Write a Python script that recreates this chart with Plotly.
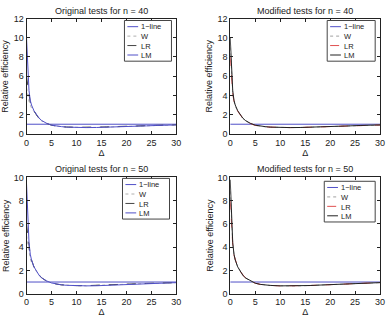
import plotly.graph_objects as go

delta = [0, 0.25, 0.5, 0.75, 1, 1.5, 2, 2.5, 3, 4, 5, 6, 7, 8, 10, 12, 14, 16, 18, 20, 22, 24, 26, 28, 30]

# Original tests, n = 40
o40_line = [1.0] * len(delta)
o40_W = [4.8, 4.0, 3.4, 3.0, 2.7, 2.3, 1.9, 1.6, 1.35, 1.08, 0.9, 0.8, 0.74, 0.7, 0.66, 0.66, 0.67, 0.7, 0.74, 0.77, 0.82, 0.85, 0.88, 0.91, 0.93]
o40_LR = [6.0, 5.0, 4.0, 3.3, 2.9, 2.35, 1.95, 1.62, 1.38, 1.09, 0.9, 0.8, 0.75, 0.71, 0.68, 0.68, 0.7, 0.72, 0.76, 0.8, 0.84, 0.87, 0.9, 0.92, 0.94]
o40_LM = [10.0, 6.5, 4.5, 3.5, 3.0, 2.4, 2.0, 1.65, 1.4, 1.1, 0.9, 0.8, 0.75, 0.7, 0.66, 0.65, 0.66, 0.68, 0.72, 0.75, 0.8, 0.83, 0.87, 0.9, 0.93]

# Modified tests, n = 40
m40_line = [1.0] * len(delta)
m40_W = [9.0, 6.0, 4.3, 3.4, 2.9, 2.35, 1.95, 1.62, 1.38, 1.08, 0.88, 0.78, 0.73, 0.7, 0.66, 0.65, 0.66, 0.69, 0.73, 0.76, 0.8, 0.84, 0.87, 0.9, 0.92]
m40_LR = [8.0, 5.8, 4.2, 3.4, 2.9, 2.35, 1.95, 1.62, 1.38, 1.08, 0.88, 0.78, 0.73, 0.7, 0.66, 0.65, 0.66, 0.69, 0.73, 0.76, 0.8, 0.84, 0.87, 0.9, 0.92]
m40_LM = [10.0, 6.5, 4.5, 3.5, 3.0, 2.4, 2.0, 1.65, 1.4, 1.1, 0.9, 0.8, 0.75, 0.7, 0.66, 0.65, 0.66, 0.68, 0.72, 0.75, 0.8, 0.83, 0.87, 0.9, 0.93]

# Original tests, n = 50
o50_line = [1.0] * len(delta)
o50_W = [5.0, 4.2, 3.5, 3.0, 2.7, 2.25, 1.9, 1.6, 1.35, 1.08, 0.92, 0.82, 0.76, 0.72, 0.68, 0.68, 0.7, 0.73, 0.77, 0.8, 0.84, 0.87, 0.9, 0.93, 0.95]
o50_LR = [6.0, 5.0, 4.0, 3.3, 2.9, 2.3, 1.92, 1.6, 1.37, 1.09, 0.92, 0.82, 0.76, 0.72, 0.69, 0.69, 0.71, 0.74, 0.78, 0.81, 0.85, 0.88, 0.91, 0.93, 0.95]
o50_LM = [9.5, 6.2, 4.4, 3.4, 2.9, 2.3, 1.92, 1.6, 1.37, 1.1, 0.92, 0.82, 0.76, 0.72, 0.68, 0.67, 0.68, 0.71, 0.75, 0.78, 0.82, 0.86, 0.89, 0.92, 0.95]

# Modified tests, n = 50
m50_line = [1.0] * len(delta)
m50_W = [8.8, 6.0, 4.3, 3.4, 2.9, 2.3, 1.92, 1.6, 1.37, 1.08, 0.9, 0.8, 0.75, 0.71, 0.67, 0.66, 0.67, 0.7, 0.74, 0.78, 0.82, 0.86, 0.89, 0.92, 0.95]
m50_LR = [8.0, 5.8, 4.2, 3.3, 2.9, 2.3, 1.92, 1.6, 1.37, 1.08, 0.9, 0.8, 0.75, 0.71, 0.67, 0.66, 0.67, 0.7, 0.74, 0.78, 0.82, 0.86, 0.89, 0.92, 0.95]
m50_LM = [9.8, 6.3, 4.4, 3.4, 2.9, 2.3, 1.92, 1.6, 1.37, 1.1, 0.9, 0.8, 0.75, 0.71, 0.67, 0.66, 0.67, 0.7, 0.74, 0.77, 0.81, 0.85, 0.88, 0.92, 0.95]

titles = ["Original tests for n = 40", "Modified tests for n = 40",
          "Original tests for n = 50", "Modified tests for n = 50"]
names = ["1\u2212line", "W", "LR", "LM"]
ymax = [12, 12, 10, 10]

panels = [
    (o40_line, o40_W, o40_LR, o40_LM),
    (m40_line, m40_W, m40_LR, m40_LM),
    (o50_line, o50_W, o50_LR, o50_LM),
    (m50_line, m50_W, m50_LR, m50_LM),
]

W_, H_ = 389, 319
xdom = [(24 / W_, 177 / W_), (232 / W_, 385 / W_)]
ydom = [(1 - 133 / H_, 1 - 14 / H_), (1 - 298 / H_, 1 - 178 / H_)]

orig_styles = [
    dict(color="#5050c8", width=1, dash="solid"),
    dict(color="#b0b0b0", width=1, dash="dot"),
    dict(color="#444444", width=1, dash="dash"),
    dict(color="#5050c8", width=1, dash="solid"),
]
mod_styles = [
    dict(color="#5050c8", width=1, dash="solid"),
    dict(color="#a0a0a0", width=1, dash="dot"),
    dict(color="#e05050", width=1, dash="dash"),
    dict(color="#222222", width=1, dash="solid"),
]

# legend box (pixels): right edge, top edge, width
legend_boxes = [(172, 16, 48), (380, 16, 49), (170, 179, 48), (380, 182, 52)]
LEG_FS = 7.5
ROW = LEG_FS * 1.3

FONT = "Liberation Sans, Arial, sans-serif"
fig = go.Figure()
layout = dict(
    width=W_, height=H_, margin=dict(l=0, r=0, t=0, b=0),
    paper_bgcolor="white", plot_bgcolor="white",
    font=dict(family=FONT, size=9, color="#222"),
    showlegend=False,
)
annotations = []
shapes = []


def px(x):
    return x / W_


def py(y):
    return 1 - y / H_


for i, series in enumerate(panels):
    r, c = divmod(i, 2)
    ax = "" if i == 0 else str(i + 1)
    styles = orig_styles if c == 0 else mod_styles
    for name, ys, st in zip(names, series, styles):
        fig.add_trace(go.Scatter(x=delta, y=ys, mode="lines", name=name,
                                 line=st, xaxis="x" + ax, yaxis="y" + ax))
    axstyle = dict(showline=True, linecolor="#222", linewidth=1, mirror="ticks",
                   ticks="inside", ticklen=3, tickcolor="#222", showgrid=False,
                   zeroline=False, tickfont=dict(size=9, family=FONT))
    layout["xaxis" + ax] = dict(domain=xdom[c], range=[0, 30], tickvals=[0, 5, 10, 15, 20, 25, 30],
                                anchor="y" + ax, title=dict(text="\u0394", standoff=2, font=dict(size=9)),
                                **axstyle)
    layout["yaxis" + ax] = dict(domain=ydom[r], range=[0, ymax[i]], dtick=2,
                                anchor="x" + ax, **axstyle)
    ytop = ydom[r][1]
    annotations.append(dict(text=titles[i], x=(xdom[c][0] + xdom[c][1]) / 2, y=ytop,
                            xref="paper", yref="paper", xanchor="center", yanchor="bottom",
                            showarrow=False, font=dict(size=9, family=FONT), yshift=1))
    annotations.append(dict(text="Relative efficiency", x=xdom[c][0], y=(ydom[r][0] + ydom[r][1]) / 2,
                            xref="paper", yref="paper", xanchor="center", yanchor="middle",
                            xshift=-21, textangle=-90, showarrow=False,
                            font=dict(size=9, family=FONT)))
    # hand-drawn legend box (matlab style)
    rx, ty, bw = legend_boxes[i]
    bh = 4 * ROW + 3
    lx = rx - bw
    shapes.append(dict(type="rect", xref="paper", yref="paper",
                       x0=px(lx), x1=px(rx), y0=py(ty + bh), y1=py(ty),
                       line=dict(color="#444", width=1), fillcolor="white", layer="above"))
    for k, st in enumerate(styles):
        yc = ty + 1.5 + ROW * (k + 0.5)
        shapes.append(dict(type="line", xref="paper", yref="paper",
                           x0=px(lx + 3), x1=px(lx + 14), y0=py(yc), y1=py(yc),
                           line=st, layer="above"))
    annotations.append(dict(text="<br>".join(names), x=px(lx + 16), y=py(ty + 1.5 + 2 * ROW),
                            xref="paper", yref="paper", xanchor="left", yanchor="middle",
                            align="left", showarrow=False, borderpad=0,
                            font=dict(size=LEG_FS, family=FONT)))

layout["annotations"] = annotations
layout["shapes"] = shapes
fig.update_layout(**layout)
fig.write_html("out.html")
